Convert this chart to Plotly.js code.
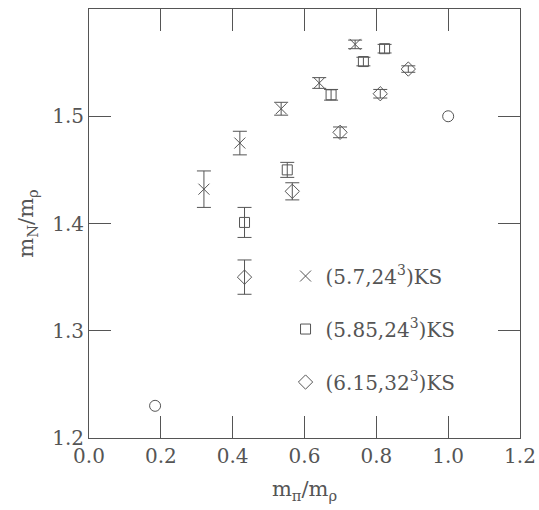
<!DOCTYPE html>
<html><head><meta charset="utf-8">
<script src="https://cdn.plot.ly/plotly-3.0.1.min.js"></script>
<style>body{margin:0;background:#fff}#c{width:539px;height:510px}</style>
</head><body><div id="c"></div>
<script>
// Series (5.7,24^3)KS
const s1Name = "(5.7,24<sup>3</sup>)KS";
const s1X = [0.320, 0.420, 0.535, 0.641, 0.741];
const s1Y = [1.432, 1.475, 1.507, 1.531, 1.567];
const s1E = [0.017, 0.011, 0.006, 0.005, 0.004];
// Series (5.85,24^3)KS
const s2Name = "(5.85,24<sup>3</sup>)KS";
const s2X = [0.433, 0.552, 0.674, 0.764, 0.823];
const s2Y = [1.401, 1.450, 1.520, 1.551, 1.563];
const s2E = [0.014, 0.007, 0.005, 0.004, 0.004];
// Series (6.15,32^3)KS
const s3Name = "(6.15,32<sup>3</sup>)KS";
const s3X = [0.433, 0.566, 0.699, 0.811, 0.889];
const s3Y = [1.350, 1.430, 1.485, 1.521, 1.544];
const s3E = [0.016, 0.008, 0.005, 0.004, 0.003];
// Reference points (circles)
const refX = [0.184, 1.0];
const refY = [1.230, 1.500];

const xRange = [0, 1.2];
const yRange = [1.2, 1.6];
const xMajor = 0.2;
const yMajor = 0.1;

const col = "#555";
const txt = "#555";
const font = "'DejaVu Serif', 'Liberation Serif', serif";

function series(x, y, e, name, sym, size, grp) {
  return {
    type: "scatter", mode: "markers", x: x, y: y, name: name,
    legendgroup: grp,
    marker: {symbol: sym, size: size, color: col, line: {color: col, width: 1}},
    error_y: {type: "data", array: e, visible: true, color: col, thickness: 1, width: 7}
  };
}

const traces = [
  series(s1X, s1Y, s1E, s1Name, "x-thin-open", 11, "a"),
  series(s2X, s2Y, s2E, s2Name, "square-open", 10, "b"),
  series(s3X, s3Y, s3E, s3Name, "diamond-open", 11, "c"),
  {type: "scatter", mode: "markers", x: refX, y: refY, showlegend: false,
   marker: {symbol: "circle-open", size: 11, color: col, line: {color: col, width: 1}}}
];

const layout = {
  width: 539, height: 510,
  margin: {l: 89, r: 19, t: 9, b: 72},
  showlegend: true,
  legend: {x: 0.456, y: 0.423, xanchor: "left", yanchor: "top",
           bgcolor: "rgba(0,0,0,0)", tracegroupgap: 24,
           font: {family: font, size: 20, color: txt}},
  xaxis: {
    range: xRange, dtick: xMajor, tickformat: ".1f",
    showline: true, mirror: "allticks", ticks: "inside", ticklen: 22,
    linecolor: col, tickcolor: col, showgrid: false, zeroline: false,
    tickfont: {family: font, size: 20, color: txt},
    title: {text: "m<sub>π</sub>/m<sub>ρ</sub>", font: {family: font, size: 21, color: txt}, standoff: 14}
  },
  yaxis: {
    range: yRange, dtick: yMajor, tickformat: ".1f",
    showline: true, mirror: "allticks", ticks: "inside", ticklen: 22,
    linecolor: col, tickcolor: col, showgrid: false, zeroline: false,
    tickfont: {family: font, size: 20, color: txt},
    title: {text: "m<sub>N</sub>/m<sub>ρ</sub>", font: {family: font, size: 21, color: txt}, standoff: 12}
  }
};

Plotly.newPlot("c", traces, layout, {staticPlot: true});
</script>
</body></html>
